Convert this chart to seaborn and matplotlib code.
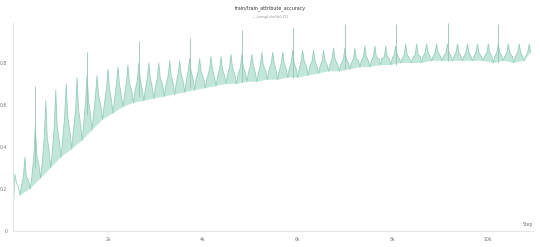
import matplotlib
matplotlib.use("Agg")
import matplotlib.pyplot as plt
import seaborn as sns
import pandas as pd

# ---- data ----
start_step = [0]
start_val = [0.08]

peak_steps = [40, 250, 470, 690, 900, 1120, 1350, 1560, 1770, 2000, 2210, 2420, 2650,
              2860, 3070, 3300, 3510, 3720, 3930, 4170, 4380, 4590, 4820, 5030, 5240,
              5470, 5680, 5890, 6100, 6330, 6540, 6750, 6990, 7200, 7410, 7620, 7850,
              8060, 8270, 8500, 8710, 8920, 9150, 9360, 9570, 9780, 10010, 10220,
              10430, 10660, 10870]
peak_vals = [0.27, 0.35, 0.50, 0.62, 0.67, 0.70, 0.73, 0.74, 0.74, 0.77, 0.78, 0.79, 0.80,
             0.80, 0.80, 0.81, 0.81, 0.82, 0.82, 0.83, 0.83, 0.84, 0.84, 0.84, 0.85,
             0.85, 0.85, 0.86, 0.86, 0.86, 0.86, 0.87, 0.87, 0.87, 0.88, 0.88, 0.88,
             0.88, 0.89, 0.89, 0.89, 0.89, 0.89, 0.89, 0.89, 0.89, 0.89, 0.89,
             0.89, 0.89, 0.89]
# upper level of the dense band body around each peak
body_hi = [0.23, 0.26, 0.36, 0.45, 0.50, 0.55, 0.58, 0.62, 0.65, 0.68, 0.70, 0.71, 0.72,
           0.73, 0.73, 0.74, 0.75, 0.76, 0.76, 0.77, 0.77, 0.78, 0.78, 0.79, 0.79,
           0.80, 0.80, 0.80, 0.81, 0.81, 0.81, 0.82, 0.82, 0.82, 0.83, 0.83, 0.83,
           0.84, 0.84, 0.84, 0.85, 0.85, 0.85, 0.85, 0.85, 0.85, 0.85, 0.85,
           0.85, 0.85, 0.85]

trough_steps = [145, 360, 580, 795, 1010, 1235, 1455, 1665, 1885, 2105, 2315, 2535, 2755,
                2965, 3185, 3405, 3615, 3825, 4050, 4275, 4485, 4705, 4925, 5135, 5355,
                5575, 5785, 5995, 6215, 6435, 6645, 6870, 7095, 7305, 7515, 7735, 7955,
                8165, 8385, 8605, 8815, 9035, 9255, 9465, 9675, 9895, 10115, 10325,
                10545, 10765]
trough_vals = [0.17, 0.20, 0.25, 0.30, 0.35, 0.39, 0.43, 0.48, 0.53, 0.56, 0.59, 0.61, 0.62,
               0.63, 0.64, 0.65, 0.66, 0.67, 0.68, 0.69, 0.70, 0.70, 0.71, 0.71, 0.72,
               0.72, 0.73, 0.73, 0.74, 0.75, 0.76, 0.76, 0.77, 0.78, 0.78, 0.79, 0.79,
               0.80, 0.80, 0.80, 0.81, 0.81, 0.81, 0.81, 0.81, 0.81, 0.80, 0.81,
               0.80, 0.81]
# lower level of the dense band body around each trough
body_lo = [0.21, 0.24, 0.31, 0.37, 0.42, 0.46, 0.50, 0.55, 0.59, 0.62, 0.64, 0.66, 0.67,
           0.68, 0.69, 0.70, 0.71, 0.72, 0.72, 0.73, 0.74, 0.74, 0.75, 0.75, 0.76,
           0.76, 0.77, 0.77, 0.78, 0.78, 0.79, 0.79, 0.80, 0.81, 0.81, 0.82, 0.82,
           0.82, 0.82, 0.83, 0.83, 0.83, 0.83, 0.83, 0.83, 0.83, 0.83, 0.83,
           0.83, 0.83]

spike_steps = [470, 1560, 2650, 3720, 4820, 5890, 6990, 8060, 9150, 10220]
spike_base = [0.30, 0.55, 0.64, 0.68, 0.71, 0.73, 0.77, 0.79, 0.81, 0.80]
spike_vals = [0.69, 0.85, 0.905, 0.92, 0.955, 0.97, 0.985, 0.985, 0.99, 0.985]

xtick_vals = [2000, 4000, 6000, 8000, 10000]
xtick_labels = ["2k", "4k", "6k", "8k", "10k"]
ytick_vals = [0, 0.2, 0.4, 0.6, 0.8]
ytick_labels = ["0", "0.2", "0.4", "0.6", "0.8"]

title = "train/train_attribute_accuracy"
subtitle = "\u2014 jswegd-vlmfiel-132"

# style: half width (in steps) of the narrow peaks and dips
HALF_W = 30

# ---- build the line series from the read points ----
zx, zy = list(start_step), list(start_val)
for i in range(len(peak_steps)):
    s = peak_steps[i]
    if i > 0:
        zx.append(s - HALF_W); zy.append(body_hi[i])
    zx.append(s); zy.append(peak_vals[i])
    zx.append(s + HALF_W); zy.append(body_hi[i])
    if i < len(trough_steps):
        t = trough_steps[i]
        zx.append(t - HALF_W); zy.append(body_lo[i])
        zx.append(t); zy.append(trough_vals[i])
        zx.append(t + HALF_W); zy.append(body_lo[i])
df = pd.DataFrame({"Step": zx, "acc": zy})

sns.set_theme(style="white")
plt.rcParams["font.family"] = ["DejaVu Sans"]

fig = plt.figure(figsize=(5.4, 2.47), dpi=100)
ax = fig.add_axes([13 / 540, 1 - 231 / 247, 520 / 540, 208 / 247])

line_col = "#8fcab7"
fill_col = "#bde4d7"

# fill of the oscillating band (line forward, troughs backward)
poly_x = zx[1:] + trough_steps[::-1]
poly_y = zy[1:] + trough_vals[::-1]
ax.fill(poly_x, poly_y, color=fill_col, alpha=0.9, lw=0)

sns.lineplot(data=df, x="Step", y="acc", ax=ax, color=line_col, lw=0.6,
             alpha=0.9, sort=False, estimator=None)
ax.vlines(spike_steps, spike_base, spike_vals, color="#99c2b5", lw=0.6)

ax.set_xlim(0, 10950)
ax.set_ylim(0, 0.99)
ax.set_xticks(xtick_vals)
ax.set_xticklabels(xtick_labels)
ax.set_yticks(ytick_vals)
ax.set_yticklabels(ytick_labels)
ax.set_xlabel("")
ax.set_ylabel("")
ax.tick_params(axis="both", length=0, labelsize=3.3, labelcolor="#777777", pad=4)
for s in ["top", "right"]:
    ax.spines[s].set_visible(False)
for s in ["left", "bottom"]:
    ax.spines[s].set_color("#e6e6e6")
    ax.spines[s].set_linewidth(0.8)
ax.grid(False)
ax.text(1.0, 0.02, "Step", transform=ax.transAxes, ha="right", va="bottom",
        fontsize=3.3, color="#777777")

fig.text(0.5, 1 - 8 / 247, title, ha="center", va="center", fontsize=3.4, color="#333333")
fig.text(0.5, 1 - 17 / 247, subtitle, ha="center", va="center", fontsize=2.4, color="#999999")

fig.savefig("out.png", dpi=100)
